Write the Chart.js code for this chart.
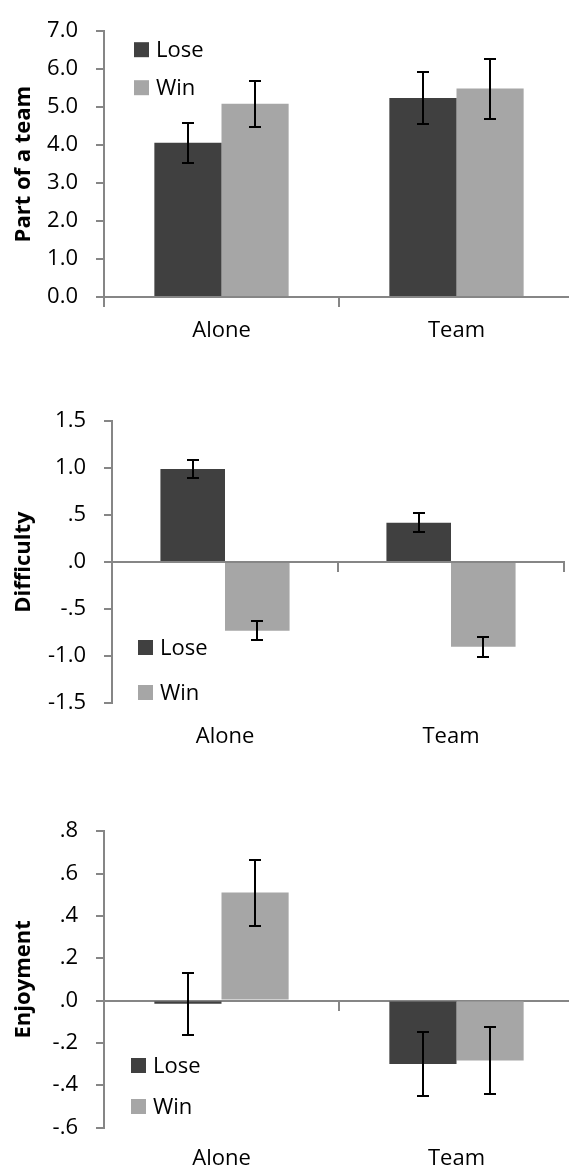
<!DOCTYPE html>
<html>
<head>
<meta charset="utf-8">
<script src="https://cdn.jsdelivr.net/npm/chart.js@4.4.1/dist/chart.umd.min.js"></script>
<style>
  html, body { margin: 0; padding: 0; background: #fff; overflow: hidden; width: 569px; height: 1174px; }
  .panel { position: absolute; left: 0; width: 580px; }
</style>
</head>
<body>
<div class="panel" style="top:0;height:360px"><canvas id="teamChart"></canvas></div>
<div class="panel" style="top:390px;height:380px"><canvas id="difficultyChart"></canvas></div>
<div class="panel" style="top:800px;height:374px"><canvas id="enjoymentChart"></canvas></div>
<script>
// Conditions and outcome groups
const groups = ['Alone', 'Team'];
const outcomeNames = ['Lose', 'Win'];

// Feeling part of a team (means and error margins)
const teamLose = [4.06, 5.24];
const teamWin = [5.09, 5.49];
const teamLoseErr = [0.52, 0.68];
const teamWinErr = [0.61, 0.79];
const teamTicks = [0, 1, 2, 3, 4, 5, 6, 7];
const teamTickLabels = ['0.0', '1.0', '2.0', '3.0', '4.0', '5.0', '6.0', '7.0'];

// Perceived difficulty (standardised)
const diffLose = [0.99, 0.42];
const diffWin = [-0.73, -0.90];
const diffLoseErr = [0.095, 0.10];
const diffWinErr = [0.10, 0.105];
const diffTicks = [-1.5, -1.0, -0.5, 0, 0.5, 1.0, 1.5];
const diffTickLabels = ['-1.5', '-1.0', '-.5', '.0', '.5', '1.0', '1.5'];

// Enjoyment (standardised)
const enjLose = [-0.015, -0.30];
const enjWin = [0.51, -0.284];
const enjLoseErr = [0.147, 0.15];
const enjWinErr = [0.156, 0.16];
const enjTicks = [-0.6, -0.4, -0.2, 0, 0.2, 0.4, 0.6, 0.8];
const enjTickLabels = ['-.6', '-.4', '-.2', '.0', '.2', '.4', '.6', '.8'];

const LOSE_COLOR = '#404040';
const WIN_COLOR = '#a6a6a6';
const AXIS_COLOR = '#868686';
const FONT_FAMILY = "'Open Sans', 'Noto Sans', sans-serif";

Chart.defaults.font.family = FONT_FAMILY;
Chart.defaults.font.size = 22;
Chart.defaults.color = '#000';

// Vertical error bars with caps, drawn from each bar's value ± its margin
const errorBars = {
  id: 'errorBars',
  afterDatasetsDraw(chart, args, opts) {
    const ctx = chart.ctx;
    const yScale = chart.scales.y;
    ctx.save();
    ctx.strokeStyle = opts.color;
    ctx.lineWidth = opts.width;
    chart.data.datasets.forEach((ds, i) => {
      const meta = chart.getDatasetMeta(i);
      meta.data.forEach((bar, j) => {
        const v = ds.data[j];
        const e = ds.errors[j];
        const top = Math.round(yScale.getPixelForValue(v + e));
        const bot = Math.round(yScale.getPixelForValue(v - e));
        const x = Math.round(bar.x);
        ctx.beginPath();
        ctx.moveTo(x, top); ctx.lineTo(x, bot);
        ctx.moveTo(x - opts.cap, top); ctx.lineTo(x + opts.cap, top);
        ctx.moveTo(x - opts.cap, bot); ctx.lineTo(x + opts.cap, bot);
        ctx.stroke();
      });
    });
    ctx.restore();
  }
};

// Legend placed inside the plot area, one entry per row
const insetLegend = {
  id: 'insetLegend',
  afterDraw(chart, args, opts) {
    const { ctx, chartArea } = chart;
    const startY = opts.anchor === 'bottom' ? chartArea.bottom - opts.dy : chartArea.top + opts.dy;
    ctx.save();
    ctx.font = opts.fontSize + 'px ' + FONT_FAMILY;
    ctx.textBaseline = 'middle';
    ctx.textAlign = 'left';
    chart.data.datasets.forEach((ds, i) => {
      const sx = chartArea.left + opts.dx;
      const sy = startY + i * opts.rowGap;
      ctx.fillStyle = ds.backgroundColor;
      ctx.fillRect(sx, sy, opts.box, opts.box);
      ctx.fillStyle = '#000';
      ctx.fillText(ds.label, sx + opts.box + opts.textGap, sy + opts.box / 2 + 1);
    });
    ctx.restore();
  }
};

function makeChart(id, p) {
  return new Chart(document.getElementById(id), {
    type: 'bar',
    data: {
      labels: groups,
      datasets: [
        { label: outcomeNames[0], data: p.lose, errors: p.loseErr, backgroundColor: LOSE_COLOR,
          categoryPercentage: 1 / 1.75, barPercentage: 1 },
        { label: outcomeNames[1], data: p.win, errors: p.winErr, backgroundColor: WIN_COLOR,
          categoryPercentage: 1 / 1.75, barPercentage: 1 }
      ]
    },
    options: {
      responsive: true,
      maintainAspectRatio: false,
      devicePixelRatio: 1,
      animation: false,
      events: [],
      layout: { padding: { top: p.padTop, right: p.padRight, bottom: 0, left: 0 } },
      plugins: {
        legend: { display: false },
        tooltip: { enabled: false },
        errorBars: { color: '#000', width: 2, cap: 6 },
        insetLegend: p.legend
      },
      scales: {
        // category labels along the bottom edge
        x: {
          type: 'category',
          offset: true,
          grid: { display: false, drawTicks: false },
          border: { display: false },
          ticks: { padding: p.labelPad, font: { size: 22 }, color: '#000' },
          afterFit(scale) { scale.height = p.xHeight; }
        },
        // horizontal axis line crossing at zero, with tick marks between groups
        x0: {
          type: 'category',
          position: { y: 0 },
          offset: true,
          ticks: { display: false },
          grid: { display: true, offset: true, drawOnChartArea: false, drawTicks: true,
                  tickLength: 9, color: AXIS_COLOR, lineWidth: 2 },
          border: { display: true, color: AXIS_COLOR, width: 2 }
        },
        y: {
          min: p.ticks[0],
          max: p.ticks[p.ticks.length - 1],
          afterBuildTicks(scale) { scale.ticks = p.ticks.map(v => ({ value: v })); },
          ticks: {
            autoSkip: false,
            padding: 18,
            font: { size: 22 },
            color: '#000',
            callback(value, index) { return p.tickLabels[index]; }
          },
          grid: { display: true, drawOnChartArea: false, drawTicks: true, tickLength: 8,
                  color: AXIS_COLOR, lineWidth: 2 },
          border: { display: true, color: AXIS_COLOR, width: 2 },
          title: { display: true, text: p.title, font: { size: 22, weight: 'bold' },
                   color: '#000', padding: { top: 11, bottom: 0 } },
          afterFit(scale) { scale.width = p.yWidth; }
        }
      }
    },
    plugins: [errorBars, insetLegend]
  });
}

makeChart('teamChart', {
  lose: teamLose, win: teamWin, loseErr: teamLoseErr, winErr: teamWinErr,
  ticks: teamTicks, tickLabels: teamTickLabels, title: 'Part of a team',
  padTop: 17, padRight: 6, yWidth: 104, xHeight: 63, labelPad: 21,
  legend: { anchor: 'top', dx: 30, dy: 11, rowGap: 38, box: 15, textGap: 7, fontSize: 22 }
});

makeChart('difficultyChart', {
  lose: diffLose, win: diffWin, loseErr: diffLoseErr, winErr: diffWinErr,
  ticks: diffTicks, tickLabels: diffTickLabels, title: 'Difficulty',
  padTop: 21, padRight: 16, yWidth: 112, xHeight: 67, labelPad: 21,
  legend: { anchor: 'bottom', dx: 26, dy: 63, rowGap: 45, box: 15, textGap: 7, fontSize: 22 }
});

makeChart('enjoymentChart', {
  lose: enjLose, win: enjWin, loseErr: enjLoseErr, winErr: enjWinErr,
  ticks: enjTicks, tickLabels: enjTickLabels, title: 'Enjoyment',
  padTop: 21, padRight: 6, yWidth: 104, xHeight: 46.5, labelPad: 18,
  legend: { anchor: 'bottom', dx: 27, dy: 69.5, rowGap: 41, box: 15, textGap: 7, fontSize: 22 }
});
</script>
</body>
</html>
